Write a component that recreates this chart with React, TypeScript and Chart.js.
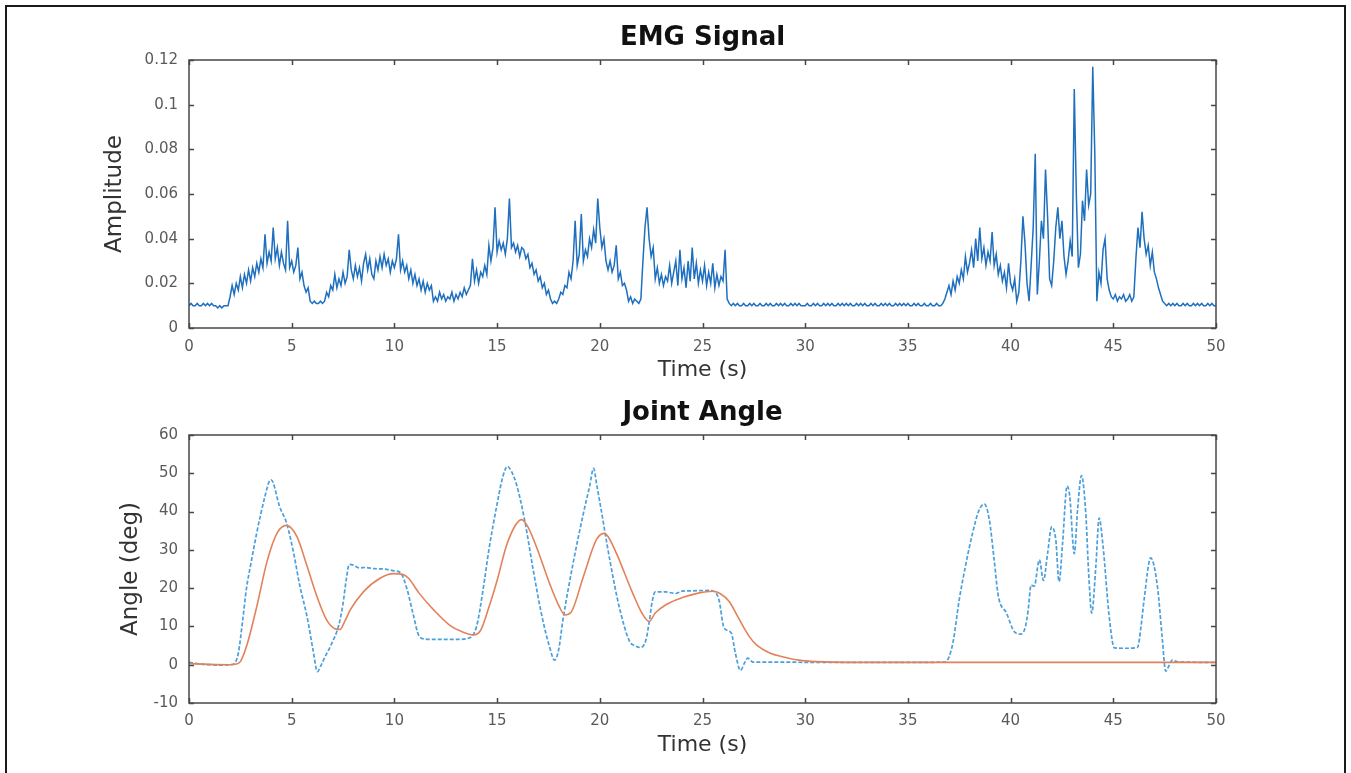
import React, { useEffect, useRef } from 'react';
import { Chart, registerables } from 'chart.js';

Chart.register(...registerables);

const FONT = '"DejaVu Sans", "Liberation Sans", sans-serif';
const W = 1351;

// ---------- EMG signal (sampled every 0.1 s, 0 .. 50 s) ----------
const EMG_DT = 0.1;
const emgAmplitude = [
  .010, .011, .010, .010, .011, .010, .010, .011, .010, .011,
  .010, .011, .010, .010, .009, .010, .009, .010, .010, .010,
  .014, .019, .015, .020, .017, .023, .018, .024, .020, .026,
  .021, .027, .023, .029, .025, .031, .027, .042, .029, .034,
  .030, .045, .031, .036, .028, .034, .029, .026, .048, .027,
  .030, .025, .028, .036, .022, .025, .019, .016, .018, .012,
  .011, .012, .011, .011, .012, .011, .012, .016, .014, .019,
  .017, .024, .018, .022, .019, .025, .020, .023, .035, .026,
  .022, .028, .023, .027, .021, .029, .033, .026, .031, .024,
  .022, .030, .026, .032, .027, .033, .028, .031, .025, .030,
  .027, .031, .042, .026, .030, .025, .028, .022, .026, .020,
  .024, .019, .022, .017, .021, .016, .020, .017, .019, .012,
  .014, .012, .016, .013, .015, .012, .014, .013, .016, .012,
  .015, .013, .016, .014, .018, .015, .017, .019, .031, .021,
  .026, .020, .025, .023, .028, .024, .037, .030, .036, .054,
  .034, .039, .035, .038, .033, .040, .058, .036, .038, .034,
  .037, .032, .036, .035, .031, .033, .027, .029, .024, .026,
  .021, .023, .018, .020, .015, .017, .013, .011, .012, .011,
  .013, .016, .015, .019, .018, .025, .022, .030, .048, .028,
  .033, .051, .030, .035, .032, .040, .036, .044, .038, .058,
  .045, .036, .040, .030, .026, .030, .025, .028, .037, .022,
  .025, .019, .020, .017, .012, .014, .011, .013, .012, .011,
  .013, .030, .045, .054, .040, .032, .036, .022, .027, .020,
  .024, .019, .023, .021, .028, .020, .025, .030, .019, .035,
  .022, .027, .018, .030, .021, .036, .022, .029, .020, .026,
  .021, .028, .019, .025, .020, .029, .018, .024, .019, .023,
  .021, .035, .013, .011, .010, .011, .010, .011, .010, .010,
  .011, .010, .010, .011, .010, .011, .010, .010, .011, .010,
  .010, .011, .010, .011, .010, .010, .011, .010, .011, .010,
  .011, .010, .010, .011, .010, .011, .010, .011, .010, .010,
  .010, .011, .010, .010, .011, .010, .011, .010, .010, .011,
  .010, .011, .010, .011, .010, .010, .011, .010, .011, .010,
  .011, .010, .011, .010, .010, .011, .010, .011, .010, .011,
  .010, .010, .011, .010, .011, .010, .010, .011, .010, .011,
  .010, .011, .010, .010, .011, .010, .011, .010, .011, .010,
  .011, .010, .010, .011, .010, .011, .010, .010, .011, .010,
  .010, .011, .010, .010, .011, .010, .010, .011, .013, .016,
  .019, .015, .021, .017, .023, .020, .026, .022, .032, .025,
  .029, .035, .027, .040, .030, .045, .031, .036, .028, .034,
  .030, .043, .028, .033, .024, .028, .021, .025, .018, .029,
  .020, .017, .022, .012, .016, .030, .050, .038, .020, .012,
  .028, .045, .078, .015, .030, .048, .040, .071, .050, .022,
  .019, .030, .045, .054, .040, .048, .032, .024, .030, .039,
  .032, .107, .060, .027, .033, .057, .048, .071, .055, .060,
  .117, .078, .012, .025, .020, .035, .040, .022, .017, .014,
  .013, .015, .012, .014, .013, .015, .012, .013, .015, .012,
  .014, .031, .045, .036, .052, .040, .033, .037, .028, .034,
  .025, .022, .018, .015, .012, .011, .010, .011, .010, .011,
  .010, .011, .010, .010, .011, .010, .011, .010, .010, .011,
  .010, .011, .010, .011, .010, .010, .011, .010, .011, .010,
  .010,
];

// ---------- Joint angle, measured (blue dashed) ----------
const actualTime = [
  0, 0.5, 1, 1.5, 2, 2.2, 2.4, 2.6, 2.8, 3, 3.3, 3.5, 3.7, 3.9, 4, 4.1, 4.4, 4.75, 5.1, 5.4,
  5.75, 6.05, 6.25, 6.4, 6.6, 6.9, 7.3, 7.5, 7.65, 7.8, 8, 8.3, 8.6, 9, 9.5, 10, 10.3, 10.6, 10.9, 11.2,
  11.5, 12, 13, 13.6, 14, 14.3, 14.6, 15, 15.3, 15.5, 15.7, 15.95, 16.35, 16.75, 17.15, 17.55, 17.8, 18, 18.2, 18.7,
  19.2, 19.5, 19.7, 19.85, 20, 20.5, 20.95, 21.45, 21.7, 21.95, 22.25, 22.4, 22.55, 22.7, 23.2, 23.7, 24, 24.5, 25.3, 25.6,
  25.8, 26.05, 26.4, 26.6, 26.85, 27.05, 27.2, 27.45, 28, 31, 35, 36.8, 37, 37.2, 37.5, 37.8, 38.15, 38.45, 38.72, 38.96,
  39.2, 39.4, 39.8, 40.2, 40.5, 40.7, 40.85, 41, 41.15, 41.4, 41.6, 41.8, 42, 42.2, 42.36, 42.53, 42.75, 42.88, 43.1, 43.26,
  43.45, 43.66, 43.8, 43.95, 44.15, 44.31, 44.5, 44.8, 45.05, 45.6, 46.18, 46.35, 46.5, 46.82, 47.15, 47.39, 47.55, 47.7, 47.87, 48.1,
  50,
];
const actualAngle = [
  0.6, 0.2, 0, -0.1, 0, 0.3, 3, 11, 20, 26, 34.5, 39.5, 44, 47.8, 48.3, 47.5, 41.5, 37, 29, 20.5,
  12.5, 3.5, -1.8, -0.5, 1.8, 5, 10.5, 16, 22, 26.2, 26, 25.3, 25.4, 25.1, 25, 24.5, 24, 20, 13.5, 7.5,
  6.7, 6.6, 6.6, 6.9, 10, 19, 30, 42, 49.5, 51.8, 50.5, 47, 37.5, 25, 13.5, 4.7, 1.2, 4, 11.5, 26.5,
  39.5, 46.5, 51.3, 47, 42.5, 27, 15, 6.1, 5, 4.5, 6.5, 11, 16.5, 19, 19, 18.6, 19.2, 19.3, 19.4, 19,
  17, 9.6, 8.3, 3, -1.5, 0.5, 1.7, 0.7, 0.7, 0.6, 0.6, 0.7, 2, 6, 17, 25.7, 34.4, 40.2, 42, 38,
  27.4, 18, 13.5, 8.5, 8, 9.5, 14, 20.8, 20.5, 27.4, 22, 29, 36, 32.6, 21.7, 31.7, 46.7, 44, 29, 40.4,
  49.4, 39.6, 24, 13.5, 25.7, 38.3, 31, 12.6, 4.4, 4.3, 4.5, 10, 17, 27.9, 20.4, 6.5, -1.7, -0.4, 1.2, 0.8,
  0.6,
];

// ---------- Joint angle, estimated (orange) ----------
const estimatedTime = [
  0, 1, 2, 2.3, 2.5, 2.8, 3.3, 3.8, 4.3, 4.75, 5.25, 5.75, 6.25, 6.7, 7.1, 7.35, 7.6, 7.85, 8.5, 9.3,
  9.95, 10.4, 10.7, 11.2, 11.9, 12.7, 13.3, 13.85, 14.2, 14.6, 15, 15.45, 15.9, 16.2, 16.5, 16.9, 17.55, 18, 18.3, 18.6,
  19.2, 19.83, 20.2, 20.4, 20.8, 21.6, 22.05, 22.4, 22.7, 23.2, 24.05, 24.8, 25.5, 25.85, 26.3, 26.65, 27, 27.3, 27.6, 28.3, 28.9,
  29.7, 30.6, 32, 50,
];
const estimatedAngle = [
  0.3, 0.1, 0, 0.2, 0.8, 4.8, 15.2, 27, 34.5, 36.4, 33.5, 25.7, 17.5, 11.7, 9.4, 9.2, 11.5, 14.3, 19.1, 22.6,
  23.8, 23.6, 22.5, 18.7, 14.4, 10.3, 8.6, 7.8, 9, 15, 22, 31, 36.5, 37.9, 36, 31, 21.3, 15.5, 13, 13.7,
  23, 32.6, 34.3, 33.5, 29.2, 18.7, 13.5, 11.3, 13.5, 15.6, 17.6, 18.7, 19.2, 18.6, 16.5, 13.2, 9.8, 7.2, 5.3, 3, 2.1,
  1.2, 0.8, 0.6, 0.6,
];

const timeMin = 0;
const timeMax = 50;
const timeStep = 5;

const boxTicksPlugin = {
  id: 'boxTicks',
  afterDatasetsDraw(chart: any) {
    const { ctx, chartArea, scales } = chart;
    const { left, right, top, bottom } = chartArea;
    ctx.save();
    ctx.strokeStyle = '#474747';
    ctx.lineWidth = 1.5;
    ctx.strokeRect(left, top, right - left, bottom - top);
    ctx.beginPath();
    const L = 5;
    scales.x.ticks.forEach((t: any) => {
      const px = Math.round(scales.x.getPixelForValue(t.value)) + 0.5;
      ctx.moveTo(px, bottom); ctx.lineTo(px, bottom - L);
      ctx.moveTo(px, top); ctx.lineTo(px, top + L);
    });
    scales.y.ticks.forEach((t: any) => {
      const py = Math.round(scales.y.getPixelForValue(t.value)) + 0.5;
      ctx.moveTo(left, py); ctx.lineTo(left + L, py);
      ctx.moveTo(right, py); ctx.lineTo(right - L, py);
    });
    ctx.stroke();
    ctx.restore();
  },
};

type Spec = {
  height: number;
  title: string;
  titlePadTop: number;
  titlePadBottom: number;
  yTitle: string;
  yTitlePad: number;
  yMin: number;
  yMax: number;
  yStep: number;
  xAxisHeight: number;
  xTickPad: number;
  xTitlePadBottom: number;
  datasets: any[];
};

function buildConfig(s: Spec): any {
  const tickFont = { family: FONT, size: 15 };
  const labelFont = { family: FONT, size: 22 };
  return {
    type: 'line',
    data: { datasets: s.datasets },
    plugins: [boxTicksPlugin],
    options: {
      animation: false,
      responsive: false,
      devicePixelRatio: 1,
      parsing: false,
      layout: { padding: { left: 0, right: W - 1216, top: 0, bottom: 0 } },
      elements: { point: { radius: 0 } },
      plugins: {
        legend: { display: false },
        tooltip: { enabled: false },
        title: {
          display: true,
          text: s.title,
          fullSize: false,
          color: '#111',
          font: { family: FONT, size: 26, weight: 'bold' },
          padding: { top: s.titlePadTop, bottom: s.titlePadBottom },
        },
      },
      scales: {
        x: {
          type: 'linear',
          min: timeMin,
          max: timeMax,
          afterFit: (scale: any) => { scale.height = s.xAxisHeight; },
          grid: { display: false, drawTicks: false },
          border: { display: false },
          ticks: { stepSize: timeStep, color: '#5a5a5a', font: tickFont, padding: s.xTickPad, maxRotation: 0, autoSkip: false },
          title: { display: true, text: 'Time (s)', color: '#333', font: labelFont, padding: { top: 0, bottom: s.xTitlePadBottom } },
        },
        y: {
          type: 'linear',
          min: s.yMin,
          max: s.yMax,
          afterFit: (scale: any) => { scale.width = 189; },
          grid: { display: false, drawTicks: false },
          border: { display: false },
          ticks: {
            stepSize: s.yStep,
            color: '#5a5a5a',
            font: tickFont,
            padding: 11,
            autoSkip: false,
            callback: (v: any) => String(parseFloat(Number(v).toFixed(4))),
          },
          title: { display: true, text: s.yTitle, color: '#333', font: { family: FONT, size: 23 }, padding: { top: s.yTitlePad, bottom: 0 } },
        },
      },
    },
  };
}

function ChartCanvas({ top, spec }: { top: number; spec: Spec }) {
  const ref = useRef<HTMLCanvasElement>(null);
  useEffect(() => {
    const chart = new Chart(ref.current as HTMLCanvasElement, buildConfig(spec));
    return () => chart.destroy();
  }, []);
  return (
    <canvas
      ref={ref}
      width={W}
      height={spec.height}
      style={{ position: 'absolute', left: 0, top, width: W, height: spec.height }}
    />
  );
}

const emgSpec: Spec = {
  height: 386,
  title: 'EMG Signal',
  titlePadTop: 22.4,
  titlePadBottom: 6.4,
  yTitle: 'Amplitude',
  yTitlePad: 101,
  yMin: 0,
  yMax: 0.12,
  yStep: 0.02,
  xAxisHeight: 58,
  xTickPad: 10,
  xTitlePadBottom: 2.8,
  datasets: [
    {
      data: emgAmplitude.map((v, i) => ({ x: i * EMG_DT, y: v })),
      borderColor: '#1e6fbe',
      borderWidth: 1.5,
      pointRadius: 0,
      tension: 0,
    },
  ],
};

const angleSpec: Spec = {
  height: 387,
  title: 'Joint Angle',
  titlePadTop: 11.4,
  titlePadBottom: 6.4,
  yTitle: 'Angle (deg)',
  yTitlePad: 117,
  yMin: -10,
  yMax: 60,
  yStep: 10,
  xAxisHeight: 70,
  xTickPad: 9,
  xTitlePadBottom: 14.8,
  datasets: [
    {
      data: estimatedTime.map((t, i) => ({ x: t, y: estimatedAngle[i] })),
      borderColor: '#e2825a',
      borderWidth: 1.6,
      pointRadius: 0,
      cubicInterpolationMode: 'monotone',
      order: 0,
    },
    {
      data: actualTime.map((t, i) => ({ x: t, y: actualAngle[i] })),
      borderColor: '#4a9fdc',
      borderWidth: 1.7,
      borderDash: [4, 2],
      pointRadius: 0,
      cubicInterpolationMode: 'monotone',
      order: 1,
    },
  ],
};

export default function App() {
  return (
    <div style={{ position: 'fixed', left: 0, top: 0, width: W, height: 773, background: '#fff', overflow: 'hidden' }}>
      <ChartCanvas top={0} spec={emgSpec} />
      <ChartCanvas top={386} spec={angleSpec} />
      <div
        style={{
          position: 'absolute', left: 5, top: 5, width: 1341, height: 800,
          borderLeft: '2px solid #1a1a1a', borderTop: '2px solid #1a1a1a', borderRight: '2px solid #1a1a1a',
          boxSizing: 'border-box', pointerEvents: 'none',
        }}
      />
    </div>
  );
}
